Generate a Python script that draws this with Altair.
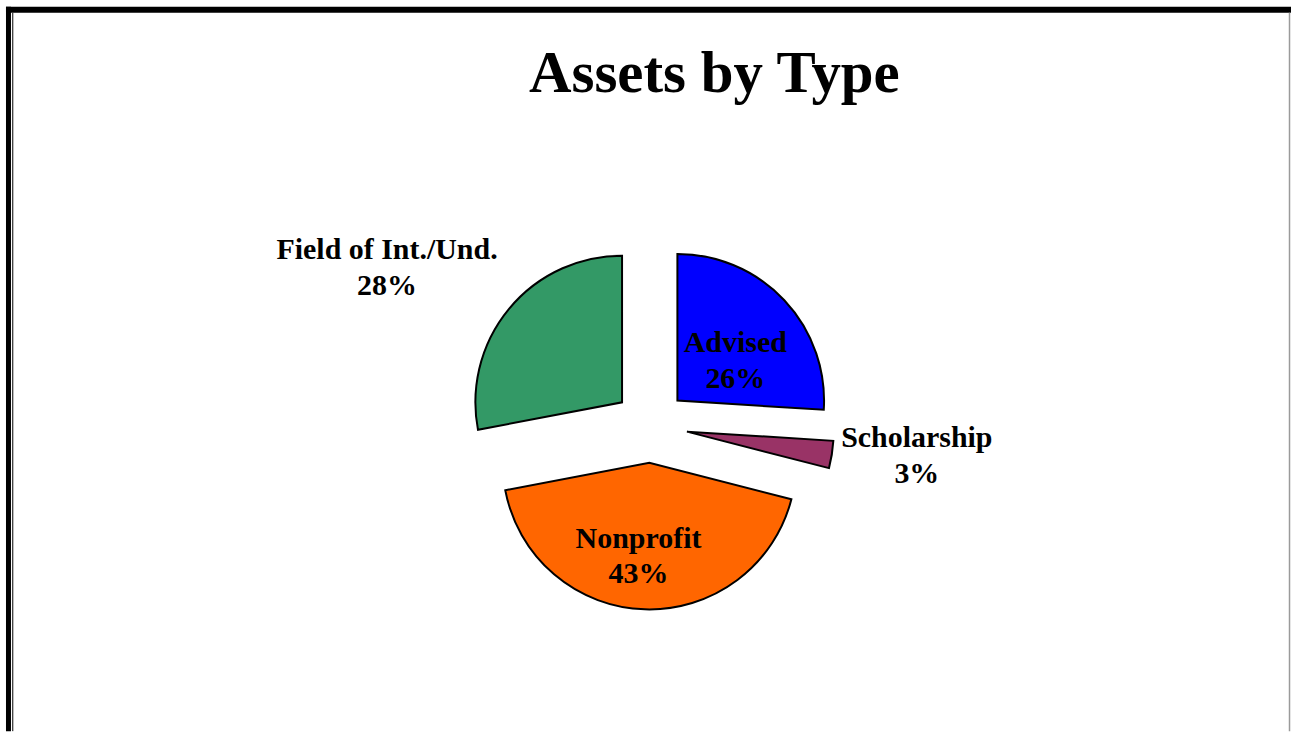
import math
import altair as alt
import pandas as pd

# ---- data ----
CATEGORIES = ["Advised", "Scholarship", "Nonprofit", "Field of Int./Und."]
SHARES = [26, 3, 43, 28]
COLORS = ["#0000FF", "#993366", "#FF6600", "#339966"]
TITLE = "Assets by Type"

# ---- layout ----
W, H = 1294, 732
CX, CY = 652, 426          # pie centre (pixels)
RADIUS = 147
EXPLODE = 37               # slice pull-out distance
LABEL_RADIUS = [112.7, 267.8, 122.6, 312.4]
LABEL_SHIFT_DEG = [2.16, -4.5, 3.82, -7.3]
FONT = "Liberation Serif"

df = pd.DataFrame({
    "category": CATEGORIES,
    "share": SHARES,
    "order": list(range(len(CATEGORIES))),
    "lr": LABEL_RADIUS,
    "ls": LABEL_SHIFT_DEG,
})

base = (
    alt.Chart(df)
    .transform_joinaggregate(total="sum(share)")
    .transform_window(cum="sum(share)", sort=[alt.SortField("order")])
    .transform_calculate(
        f0="(datum.cum - datum.share) / datum.total",
        f1="datum.cum / datum.total",
        mid="2 * PI * (datum.cum - datum.share / 2) / datum.total",
    )
    .transform_calculate(
        ax=f"{EXPLODE} * sin(datum.mid)",
        ay=f"{EXPLODE} * cos(datum.mid)",
        la="datum.mid + datum.ls * PI / 180",
    )
    .transform_calculate(
        lx="datum.lr * sin(datum.la)",
        ly="datum.lr * cos(datum.la)",
        label="datum.category + '\\n' + datum.share + '%'",
    )
)

xs = alt.Scale(domain=[-CX, W - CX], nice=False, zero=False)
ys = alt.Scale(domain=[CY - H, CY], nice=False, zero=False)

arcs = base.mark_arc(outerRadius=RADIUS, stroke="black", strokeWidth=2).encode(
    x=alt.X("ax:Q", scale=xs, axis=None),
    y=alt.Y("ay:Q", scale=ys, axis=None),
    theta=alt.Theta("f0:Q", scale=alt.Scale(domain=[0, 1], range=[0, 2 * math.pi]), stack=None),
    theta2="f1:Q",
    color=alt.Color("category:N", scale=alt.Scale(domain=CATEGORIES, range=COLORS), legend=None),
)

labels = base.mark_text(
    font=FONT, fontWeight="bold", fontSize=30, lineBreak="\n", lineHeight=36,
    align="center", baseline="alphabetic", color="black",
).encode(
    x=alt.X("lx:Q", scale=xs, axis=None),
    y=alt.Y("ly:Q", scale=ys, axis=None),
    text="label:N",
)

title = alt.Chart(alt.Data(values=[{"t": TITLE}])).mark_text(
    font=FONT, fontWeight="bold", fontSize=59, align="center", baseline="alphabetic", color="black",
).encode(x=alt.value(716), y=alt.value(91), text="t:N")

frame_data = alt.Data(values=[{}])
top = alt.Chart(frame_data).mark_rule(color="black", strokeWidth=6).encode(
    x=alt.value(6), x2=alt.value(W), y=alt.value(9))
left = alt.Chart(frame_data).mark_rule(color="black", strokeWidth=5).encode(
    x=alt.value(8.5), y=alt.value(6), y2=alt.value(H))
left_thin = alt.Chart(frame_data).mark_rule(color="black", strokeWidth=1).encode(
    x=alt.value(12.8), y=alt.value(12), y2=alt.value(H))
right = alt.Chart(frame_data).mark_rule(color="#9a9a9a", strokeWidth=1.5).encode(
    x=alt.value(1292.5), y=alt.value(12), y2=alt.value(H))

chart = (
    alt.layer(top, left, left_thin, right, arcs, labels, title)
    .properties(width=W, height=H, padding=0, background="white")
    .configure_view(stroke=None)
)

chart.save("out.html", embed_options={"renderer": "svg", "actions": False})
